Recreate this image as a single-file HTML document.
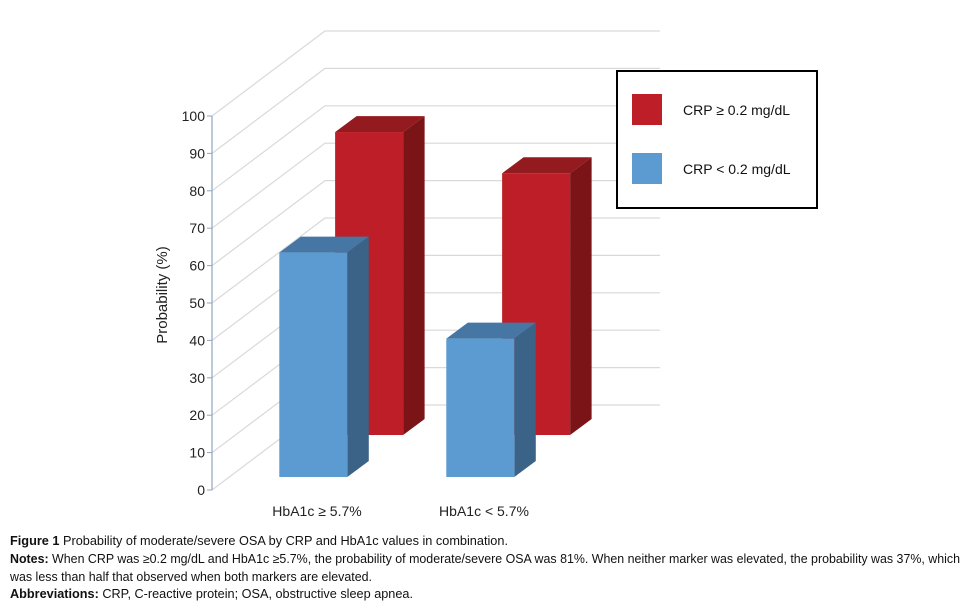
<!DOCTYPE html>
<html><head><meta charset="utf-8"><style>
html,body{margin:0;padding:0;background:#fff;}
svg{display:block;font-family:"Liberation Sans",sans-serif;}
</style></head><body>
<svg id="chart" width="970" height="604" viewBox="0 0 970 604">
<g id="grid"></g>
<g id="axis"></g>
<g id="bars"></g>
<text x="167" y="295" font-size="15" fill="#222" text-anchor="middle" transform="rotate(-90 167 295)">Probability (%)</text>
<g>
<rect x="617" y="71" width="200" height="137" fill="#fff" stroke="#000" stroke-width="2"/>
<rect x="632" y="94" width="30" height="31" fill="#be1e27"/>
<text x="683" y="115" font-size="14" fill="#111">CRP ≥ 0.2 mg/dL</text>
<rect x="632" y="153" width="30" height="31" fill="#5b9bd1"/>
<text x="683" y="174" font-size="14" fill="#111">CRP &lt; 0.2 mg/dL</text>
</g>
<g font-family="'Liberation Sans',sans-serif" font-size="12.5" fill="#111">
<text x="10" y="545" textLength="498" lengthAdjust="spacingAndGlyphs"><tspan font-weight="bold">Figure 1</tspan> Probability of moderate/severe OSA by CRP and HbA1c values in combination.</text>
<text x="10" y="563" textLength="950" lengthAdjust="spacingAndGlyphs"><tspan font-weight="bold">Notes:</tspan> When CRP was ≥0.2 mg/dL and HbA1c ≥5.7%, the probability of moderate/severe OSA was 81%. When neither marker was elevated, the probability was 37%, which</text>
<text x="10" y="581" textLength="362" lengthAdjust="spacingAndGlyphs">was less than half that observed when both markers are elevated.</text>
<text x="10" y="598" textLength="403" lengthAdjust="spacingAndGlyphs"><tspan font-weight="bold">Abbreviations:</tspan> CRP, C-reactive protein; OSA, obstructive sleep apnea.</text>
</g>
</svg>
<script>
const categories = ["HbA1c ≥ 5.7%", "HbA1c < 5.7%"];
const crpHigh = [81, 70];
const crpLow = [60, 37];
const yTicks = [0,10,20,30,40,50,60,70,80,90,100];

const NS = "http://www.w3.org/2000/svg";
const Y0 = 490, PX = 3.74, DX = 113, DY = 85, AXX = 212, BACKR = 660;
function yScale(v){ return Y0 - v*PX; }
function xBand(i){ return 262 + i*167; }
const BW = 68;
function mk(tag, attrs, parent){ const e=document.createElementNS(NS,tag); for(const k in attrs) e.setAttribute(k,attrs[k]); parent.appendChild(e); return e; }

const grid=document.getElementById('grid');
const axis=document.getElementById('axis');
yTicks.forEach(t=>{
  const y=yScale(t);
  const d=mk('polyline',{points:`${AXX},${y} ${AXX+DX},${y-DY} ${BACKR},${y-DY}`,fill:'none',stroke:'#d9d9d9','stroke-width':1.2},grid);
  
  
  const tk=mk('line',{x1:AXX-5,y1:y,x2:AXX,y2:y,stroke:'#8fa6bf'},axis);
  
  
  const lb=mk('text',{x:AXX-7,y:y+5,'font-size':14,fill:'#222','text-anchor':'end'},axis);
  lb.textContent=t;
  
  
});
const al=mk('line',{x1:AXX,y1:yScale(100),x2:AXX,y2:Y0,stroke:'#8fa6bf','stroke-width':1.2},axis);



const bars=document.getElementById('bars');
function bar(i,v,z,cols,name){
  const ox=z*DX, oy=z*DY, x=xBand(i)+ox, yb=Y0-oy, yt=yScale(v)-oy, dx=21.5, dy=16;
  const g=mk('g',{},bars);
  
  
  mk('polygon',{points:`${x},${yt} ${x+dx},${yt-dy} ${x+BW+dx},${yt-dy} ${x+BW},${yt}`,fill:cols[1]},g);
  mk('polygon',{points:`${x+BW},${yt} ${x+BW+dx},${yt-dy} ${x+BW+dx},${yb-dy} ${x+BW},${yb}`,fill:cols[2]},g);
  mk('rect',{x:x,y:yt,width:BW,height:yb-yt,fill:cols[0]},g);
}
const RED=['#be1e27','#931a1e','#7b1417'], BLUE=['#5b9bd1','#4677a4','#3b6287'];
categories.forEach((c,i)=>bar(i,crpHigh[i],0.647,RED,'bar-crp-high-'+i));
categories.forEach((c,i)=>bar(i,crpLow[i],0.153,BLUE,'bar-crp-low-'+i));
categories.forEach((c,i)=>{
  const t=mk('text',{x:xBand(i)+55,y:516,'font-size':14,fill:'#222','text-anchor':'middle'},axis);
  t.textContent=c;
  
  
});
</script>
</body></html>
